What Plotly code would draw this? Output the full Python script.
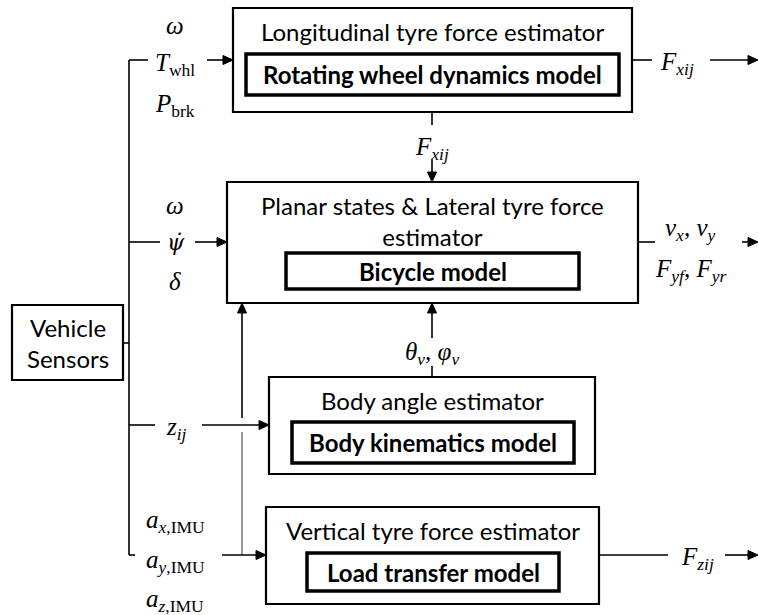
import re
import plotly.graph_objects as go

# ---------------- diagram content ----------------
# outer estimator blocks: (x0, y0, x1, y1) in canvas units
block_names = ["long", "planar", "body", "vert", "sensors"]
block_x0 = [233, 227, 269, 266, 12]
block_y0 = [8, 182, 377, 507, 305]
block_x1 = [632, 638, 595, 599, 123]
block_y1 = [112, 303, 474, 604, 380]
block_titles = ["Longitudinal tyre force estimator",
                "Planar states & Lateral tyre force<br>estimator",
                "Body angle estimator",
                "Vertical tyre force estimator",
                "Vehicle<br>Sensors"]
block_title_y = [31, 221, 400, 530, 343]

# inner model blocks
model_x0 = [246, 286, 292, 307]
model_y0 = [54, 253, 422, 553]
model_x1 = [619, 579, 574, 559]
model_y1 = [95, 289, 463, 591]
model_names = ["Rotating wheel dynamics model", "Bicycle model",
               "Body kinematics model", "Load transfer model"]

# signal labels
sig_text = ["ω", "T<sub>whl</sub>", "P<sub>brk</sub>",
            "ω", "ψ̇", "δ",
            "z<sub>ij</sub>",
            "a<sub>x,IMU</sub>", "a<sub>y,IMU</sub>", "a<sub>z,IMU</sub>",
            "F<sub>xij</sub>", "F<sub>xij</sub>",
            "v<sub>x</sub>, v<sub>y</sub>", "F<sub>yf</sub>, F<sub>yr</sub>",
            "θ<sub>v</sub>, φ<sub>v</sub>", "F<sub>zij</sub>"]
sig_x = [175, 175, 175, 175, 176, 175, 176, 175, 175, 175, 677, 432, 690, 690, 432, 697]
sig_y = [25, 64, 105, 205, 242, 281, 428, 521, 561, 600, 63, 148, 229, 270, 353, 558]
sig_font = ["'Liberation Serif', serif"] * len(sig_text)
sig_font[4] = "'DejaVu Serif', serif"
sig_size = [25] * len(sig_text)
sig_size[4] = 22

# plain connector segments (x0, y0, x1, y1)
seg_x0 = [129, 129, 129, 123, 129, 129, 432, 432, 632, 638, 599]
seg_y0 = [60, 60, 242, 343, 425, 555, 112, 377, 60, 242, 555]
seg_x1 = [129, 148, 160, 129, 155, 135, 432, 432, 652, 655, 668]
seg_y1 = [555, 60, 242, 343, 425, 555, 125, 366, 60, 242, 555]

# arrows (from -> to, head at "to")
arr_x0 = [207, 195, 202, 222, 242, 432, 432, 710, 742, 725]
arr_y0 = [60, 242, 425, 555, 418, 160, 338, 60, 242, 555]
arr_x1 = [233, 227, 269, 266, 242, 432, 432, 758, 758, 758]
arr_y1 = [60, 242, 425, 555, 303, 182, 303, 60, 242, 555]

# grey branch line
grey_x = [242, 242]
grey_y = [432, 555]

W, H = 759, 615
SANS = "Lato, 'Open Sans', sans-serif"

fig = go.Figure()
shapes = []
annotations = []

for i in range(len(block_names)):
    shapes.append(dict(type="rect", x0=block_x0[i], y0=block_y0[i], x1=block_x1[i], y1=block_y1[i],
                       line=dict(color="black", width=2.2), fillcolor="white", layer="below"))
    annotations.append(dict(x=(block_x0[i] + block_x1[i]) / 2, y=block_title_y[i], text=block_titles[i],
                            showarrow=False, font=dict(family=SANS, size=24, color="black"),
                            xanchor="center", yanchor="middle"))

for i in range(len(model_names)):
    shapes.append(dict(type="rect", x0=model_x0[i], y0=model_y0[i], x1=model_x1[i], y1=model_y1[i],
                       line=dict(color="black", width=3.5), fillcolor="white"))
    annotations.append(dict(x=(model_x0[i] + model_x1[i]) / 2, y=(model_y0[i] + model_y1[i]) / 2,
                            text="<b>" + model_names[i] + "</b>",
                            showarrow=False, font=dict(family=SANS, size=24, color="black"),
                            xanchor="center", yanchor="middle"))

for i in range(len(seg_x0)):
    shapes.append(dict(type="line", x0=seg_x0[i], y0=seg_y0[i], x1=seg_x1[i], y1=seg_y1[i],
                       line=dict(color="black", width=1.6)))

shapes.append(dict(type="line", x0=grey_x[0], y0=grey_y[0], x1=grey_x[1], y1=grey_y[1],
                   line=dict(color="#808080", width=1.6)))

HL, HW = 10, 4.5
for i in range(len(arr_x0)):
    x0, y0, x1, y1 = arr_x0[i], arr_y0[i], arr_x1[i], arr_y1[i]
    dx, dy = x1 - x0, y1 - y0
    L = (dx * dx + dy * dy) ** 0.5
    ux, uy = dx / L, dy / L
    bx, by = x1 - ux * HL, y1 - uy * HL
    px, py = -uy, ux
    shapes.append(dict(type="line", x0=x0, y0=y0, x1=bx, y1=by, line=dict(color="black", width=1.6)))
    path = "M {:.1f},{:.1f} L {:.1f},{:.1f} L {:.1f},{:.1f} Z".format(
        x1, y1, bx + px * HW, by + py * HW, bx - px * HW, by - py * HW)
    shapes.append(dict(type="path", path=path, fillcolor="black", line=dict(color="black", width=1)))


def mathify(t):
    # italic variables, upright multi-letter subscripts
    parts = re.split(r"(<sub>.*?</sub>)", t)
    out = []
    for p in parts:
        if p.startswith("<sub>"):
            inner = p[5:-6]
            if inner in ("whl", "brk"):
                out.append(p)
            elif "IMU" in inner:
                a, b = inner.split(",", 1)
                out.append("<sub><i>" + a + "</i>," + b + "</sub>")
            else:
                out.append("<sub><i>" + inner + "</i></sub>")
        elif p:
            out.append("<i>" + p + "</i>")
    return "".join(out)


for i in range(len(sig_text)):
    annotations.append(dict(x=sig_x[i], y=sig_y[i], text=mathify(sig_text[i]), showarrow=False,
                            font=dict(family=sig_font[i], size=sig_size[i], color="black"),
                            xanchor="center", yanchor="middle"))

fig.update_layout(
    width=W, height=H, margin=dict(l=0, r=0, t=0, b=0),
    paper_bgcolor="white", plot_bgcolor="white",
    xaxis=dict(range=[0, W], visible=False, fixedrange=True),
    yaxis=dict(range=[H, 0], visible=False, fixedrange=True),
    shapes=shapes, annotations=annotations, showlegend=False,
)
fig.write_html("out.html", config={"displayModeBar": False},
               post_script="document.body.style.margin='0';")
